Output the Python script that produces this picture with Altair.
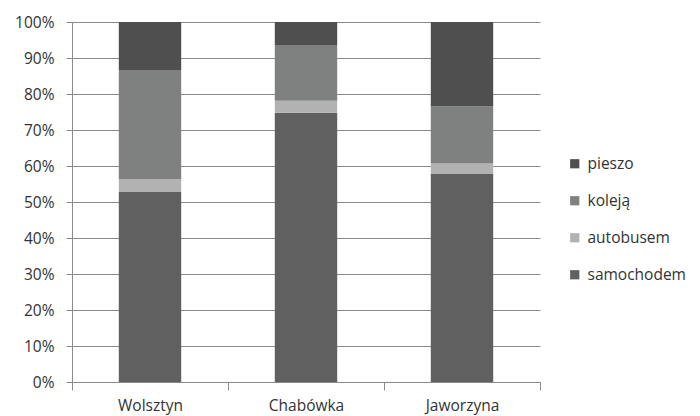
import altair as alt
import pandas as pd

places = ["Wolsztyn", "Chabówka", "Jaworzyna"]
modes = ["pieszo", "koleją", "autobusem", "samochodem"]
samochodem = [52.9, 74.8, 57.8]
autobusem = [3.5, 3.3, 2.9]
koleja = [30.3, 15.5, 15.8]
pieszo = [13.3, 6.4, 23.5]

colors = ["#4f4f4f", "#7f8180", "#b2b2b2", "#606060"]

rows = []
series = {"samochodem": samochodem, "autobusem": autobusem, "koleją": koleja, "pieszo": pieszo}
stack_order = ["samochodem", "autobusem", "koleją", "pieszo"]
for i, p in enumerate(places):
    for k, m in enumerate(stack_order):
        rows.append({"miejsce": p, "sposób": m, "wartość": series[m][i] / 100.0, "kol": k})
df = pd.DataFrame(rows)

font = "Open Sans"
chart = alt.Chart(df).mark_bar(width=alt.RelativeBandSize(0.4)).encode(
    x=alt.X("miejsce:N", sort=places, title=None,
            scale=alt.Scale(paddingInner=0, paddingOuter=0),
            axis=alt.Axis(labelAngle=0, tickBand="extent", labelPadding=8, tickSize=8,
                          domainColor="#8a8a8a", tickColor="#8a8a8a",
                          labelFont=font, labelFontSize=15.5, labelColor="#333333")),
    y=alt.Y("wartość:Q", stack="zero", title=None,
            scale=alt.Scale(domain=[0, 1], nice=False),
            axis=alt.Axis(format=".0%", values=[i / 10 for i in range(11)], tickSize=6,
                          domainColor="#8a8a8a", tickColor="#8a8a8a", gridColor="#8a8a8a",
                          labelFont=font, labelFontSize=15.5, labelColor="#333333", labelPadding=12)),
    color=alt.Color("sposób:N", sort=modes,
                    scale=alt.Scale(domain=modes, range=colors),
                    legend=alt.Legend(title=None, orient="none", legendX=495, legendY=134,
                                      symbolType="square", symbolSize=85, symbolStrokeWidth=0,
                                      rowPadding=20, labelFont=font, labelFontSize=15.5,
                                      labelColor="#333333", labelOffset=5)),
    order=alt.Order("kol:Q", sort="ascending"),
).properties(
    width=468, height=360,
    autosize=alt.AutoSizeParams(type="none"),
    padding={"left": 64, "top": 14, "right": 152, "bottom": 33},
).configure_view(stroke=None).configure_axis(grid=True, gridOpacity=1).configure_axisX(grid=False)

chart.save("out.html", embed_options={"renderer": "svg", "actions": False})
